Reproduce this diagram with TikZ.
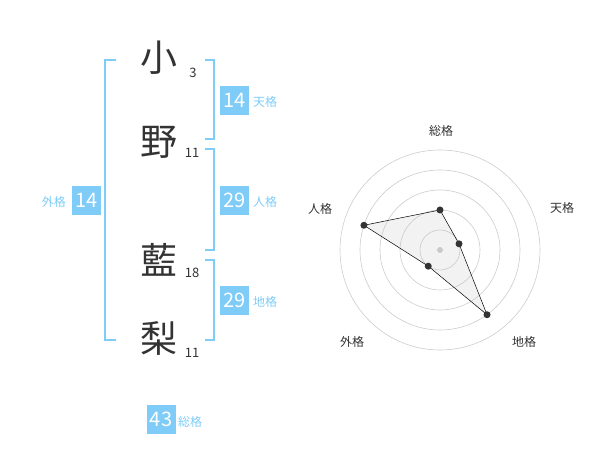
\documentclass[tikz,border=0pt]{standalone}
\usepackage{fontspec}
\setmainfont{Noto Sans CJK JP}
\definecolor{kakublue}{RGB}{127,204,248}
\definecolor{kakutext}{RGB}{51,51,51}

\begin{document}
\begin{tikzpicture}[x=1pt,y=-1pt,
  kanji/.style={font=\fontsize{37}{37}\selectfont, text=kakutext, inner sep=0pt},
  strokes/.style={font=\fontsize{13}{13}\selectfont, text=kakutext, inner sep=0pt},
  kakubox/.style={fill=kakublue, text=white, minimum size=29pt, inner sep=0pt, font=\fontsize{20}{20}\selectfont},
  kakuname/.style={text=kakublue, font=\fontsize{12}{12}\selectfont, inner sep=0pt},
  bracket/.style={draw=kakublue, line width=2pt},
  ring/.style={draw=gray!40, line width=0.6pt},
  axisname/.style={text=kakutext, font=\fontsize{12}{12}\selectfont, inner sep=0pt},
  dot/.style={fill=kakutext, circle, inner sep=0pt, minimum size=7pt}]
  \useasboundingbox (0,0) rectangle (600,470);

  % name, one character per line
  \node[kanji] (c1) at (159,58) {小};
  \node[kanji] (c2) at (159,142) {野};
  \node[kanji] (c3) at (159,260) {藍};
  \node[kanji] (c4) at (159,338) {梨};
  \node[strokes] (n1) at (193,73) {3};
  \node[strokes] (n2) at (192,153) {11};
  \node[strokes] (n3) at (192,273) {18};
  \node[strokes] (n4) at (192,353) {11};

  % brackets
  \draw[bracket] (116,60) -- (105,60) -- (105,340) -- (116,340);
  \draw[bracket] (205,60) -- (214,60) -- (214,139) -- (205,139);
  \draw[bracket] (205,149) -- (214,149) -- (214,250) -- (205,250);
  \draw[bracket] (205,260) -- (214,260) -- (214,340) -- (205,340);

  % scores
  \node[kakubox] (ten) at (234.5,100.5) {14};
  \node[kakuname, anchor=west] (tenname) at (253,102) {天格};
  \node[kakubox] (jin) at (234.5,200.5) {29};
  \node[kakuname, anchor=west] (jinname) at (253,202) {人格};
  \node[kakubox] (chi) at (234.5,300.5) {29};
  \node[kakuname, anchor=west] (chiname) at (253,302) {地格};
  \node[kakubox] (gai) at (86.5,200.5) {14};
  \node[kakuname, anchor=east] (gainame) at (66,202) {外格};
  \node[kakubox] (sou) at (161,419) {43};
  \node[kakuname, anchor=west] (souname) at (178,422) {総格};

  % radar chart
  \begin{scope}[shift={(440,250)}, y=1pt]
    \foreach \r in {20,40,60,80,100}
      \draw[ring] (0,0) circle (\r);
    \fill[gray!40] (0,0) circle (3);
    \coordinate (pSou) at (90:40);
    \coordinate (pTen) at (18:20);
    \coordinate (pChi) at (-54:80);
    \coordinate (pGai) at (-126:20);
    \coordinate (pJin) at (162:80);
    \draw[fill=gray!50, fill opacity=0.2, draw=black, line width=0.5pt]
      (pSou) -- (pTen) -- (pChi) -- (pGai) -- (pJin) -- cycle;
    \foreach \p in {pSou,pTen,pChi,pGai,pJin}
      \node[dot] at (\p) {};
  \end{scope}
  \node[axisname] (axSou) at (441,131) {総格};
  \node[axisname] (axTen) at (562,208) {天格};
  \node[axisname] (axJin) at (320,209) {人格};
  \node[axisname] (axGai) at (352,342) {外格};
  \node[axisname] (axChi) at (524,342) {地格};
\end{tikzpicture}
\end{document}
